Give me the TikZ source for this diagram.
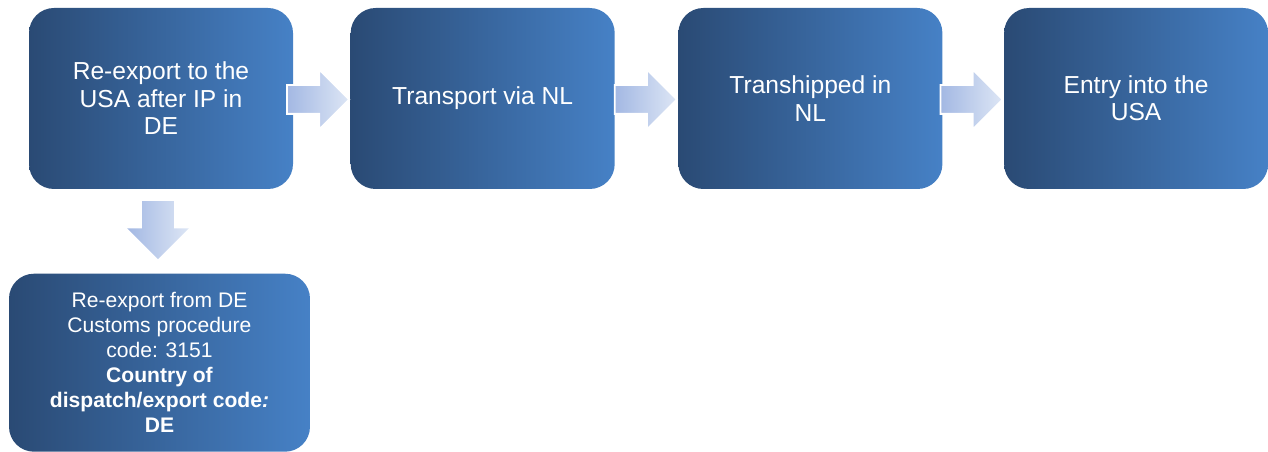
\documentclass[tikz,border=0pt]{standalone}
\usepackage{fontspec}
\setmainfont{Liberation Sans}
\usepackage{tikz}
\usetikzlibrary{positioning,calc,shapes.arrows}
\definecolor{boxleft}{HTML}{2A4A74}
\definecolor{boxright}{HTML}{4681C6}
\definecolor{arrowleft}{HTML}{A3B8E3}
\definecolor{arrowright}{HTML}{DDE6F5}

\begin{document}
\begin{tikzpicture}[
  step box/.style = {
    rectangle,
    rounded corners = 0.5cm,
    left color = boxleft,
    right color = boxright,
    text = white,
    align = center,
    minimum width = 5.28cm,
    minimum height = 3.62cm,
    font = \fontsize{14}{15.6}\selectfont,
  },
  note box/.style = {
    step box,
    minimum width = 6.02cm,
    minimum height = 3.56cm,
    font = \fontsize{12}{14.2}\selectfont,
  },
  flow arrow/.style = {
    single arrow,
    draw = white,
    line width = 1pt,
    inner xsep = 0pt,
    inner ysep = 0.27cm,
    minimum height = 1.24cm,
    single arrow head extend = 0.31cm,
    single arrow head indent = 0cm,
    left color = arrowleft,
    right color = arrowright,
  },
  down arrow/.style = {
    flow arrow,
    rotate = -90,
    draw = none,
    inner ysep = 0.3cm,
    minimum height = 1.16cm,
    single arrow head extend = 0.3cm,
  },
]

  \useasboundingbox (0,0) rectangle (25.36,-9.04);

  \node[step box] (s1) at (3.22,-1.97) {Re-export to the\\USA after IP in\\DE};
  \node[step box] (s2) [right=1.14cm of s1] {Transport via NL};
  \node[step box] (s3) [right=1.26cm of s2] {Transhipped in\\NL};
  \node[step box] (s4) [right=1.22cm of s3] {Entry into the\\USA};

  \node[note box] (d1) [below=1.68cm of s1, xshift=-0.03cm] {Re-export from DE\\Customs procedure\\code: 3151\\\textbf{Country of}\\\textbf{dispatch/export code\textit{:}}\\\textbf{DE}};

  \node[flow arrow,anchor=tip] (a1) at ($(s2.west)+(0,-0.02)$) {};
  \node[flow arrow,anchor=tip] (a2) at ($(s3.west)+(0,-0.02)$) {};
  \node[flow arrow,anchor=tip] (a3) at ($(s4.west)+(0,-0.02)$) {};

  \node[down arrow,anchor=tail] (a4) at ($(s1.south)+(-0.06,-0.22)$) {};

\end{tikzpicture}
\end{document}
